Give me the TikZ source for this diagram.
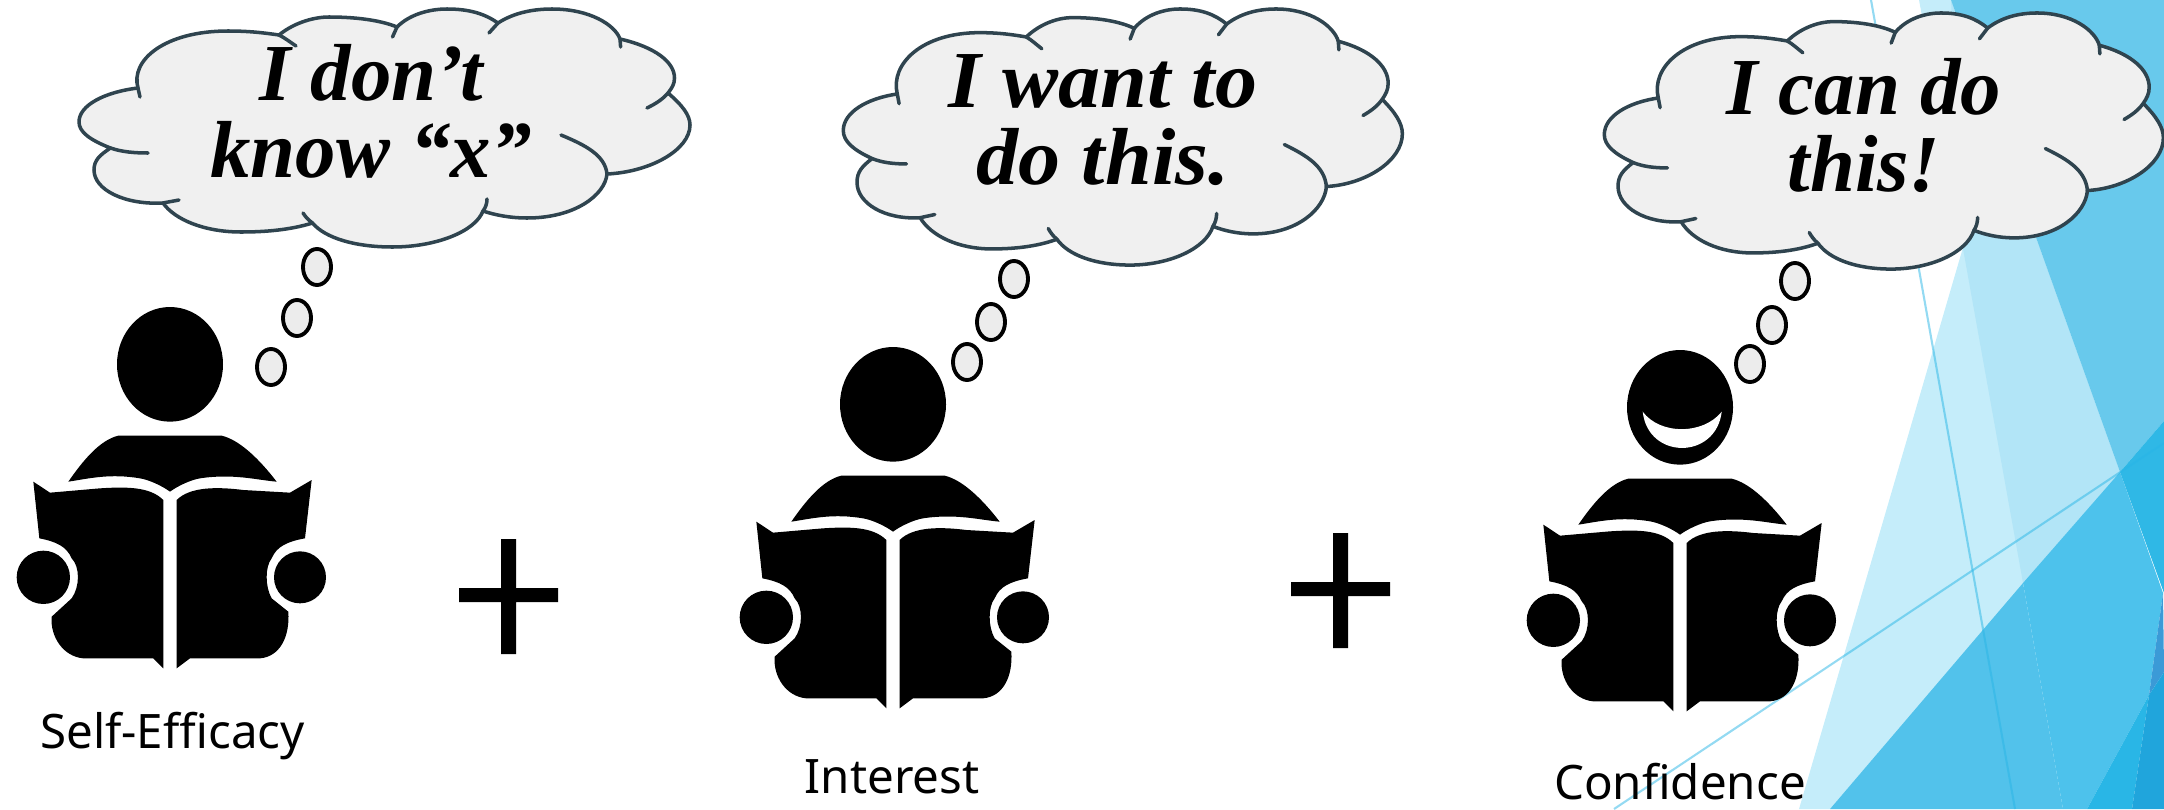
\documentclass[tikz,border=0pt]{standalone}
\usepackage{fontspec}
\setmainfont{Liberation Serif}
\newfontfamily\labelfont{Noto Sans}
\usetikzlibrary{shapes.geometric}
\definecolor{cloudline}{RGB}{47, 68, 79}
\definecolor{cloudfill}{RGB}{240, 240, 240}
\definecolor{bubblefill}{RGB}{236, 236, 236}
\definecolor{palesky}{RGB}{197, 237, 250}
\definecolor{midsky}{RGB}{178, 229, 247}
\definecolor{topsky}{RGB}{104, 201, 236}
\definecolor{lowsky}{RGB}{82, 194, 235}
\definecolor{bandsky}{RGB}{77, 194, 236}
\definecolor{deepsky}{RGB}{47, 184, 230}
\definecolor{floorsky}{RGB}{41, 182, 230}
\definecolor{darksky}{RGB}{32, 165, 220}
\definecolor{bluesky}{RGB}{59, 154, 215}

\begin{document}
\begin{tikzpicture}[
    x=0.01cm, y=-0.01cm,
    thought/.style={font=\fontsize{23}{21.9}\selectfont\bfseries\itshape, align=center, inner sep=0pt, transform shape},
    caption/.style={font=\labelfont\fontsize{13.5}{16}\selectfont, anchor=base, inner sep=0pt},
    bubble/.style={draw=black, fill=bubblefill, ellipse, line width=1.1pt, inner sep=0pt,
                   minimum width=0.28cm, minimum height=0.36cm},
    thin line/.style={draw=floorsky, opacity=0.5, line width=0.6pt},
    reader/.pic={
      \begin{scope}[scale=1/3]
        % head
        \fill (510,283) ellipse [x radius=159, y radius=172];
        % shoulders
        \fill (205,635) .. controls (250,570) and (300,510) .. (355,497) -- (665,497)
          .. controls (720,510) and (780,570) .. (830,635)
          .. controls (770,630) and (700,610) .. (600,625)
          .. controls (570,630) and (530,650) .. (510,665)
          .. controls (490,650) and (450,630) .. (420,625)
          .. controls (330,610) and (270,625) .. (205,635) -- cycle;
        % book pages
        \fill (100,635) -- (150,668) -- (300,655)
          .. controls (380,650) and (450,650) .. (490,690) -- (490,1195) -- (460,1165) -- (250,1165)
          .. controls (190,1160) and (150,1100) .. (155,1040) -- (215,985)
          .. controls (240,950) and (240,890) .. (215,865)
          .. controls (200,830) and (170,815) .. (118,805) -- cycle;
        \fill (935,630) -- (870,668) -- (730,660)
          .. controls (650,650) and (570,650) .. (530,690) -- (530,1195) -- (570,1165) -- (780,1165)
          .. controls (840,1160) and (870,1100) .. (865,1025) -- (815,985)
          .. controls (795,950) and (795,890) .. (815,865)
          .. controls (830,830) and (860,815) .. (915,805) -- cycle;
        % hands
        \fill (130,922) circle [radius=80];
        \fill (900,922) circle [radius=78];
      \end{scope}
    },
    thoughtcloud/.pic={
      \draw[draw=cloudline, fill=cloudfill, line width=1pt, line cap=round, line join=round]
        (110.5,148) .. controls (90,140) and (79,132) .. (79,122)
        .. controls (79,105) and (105,92) .. (138,88)
        .. controls (130,60) and (165,31) .. (228,31)
        .. controls (250,31) and (265,33) .. (279,35)
        .. controls (295,22) and (315,17) .. (329,17)
        .. controls (355,17) and (380,20) .. (397,27)
        .. controls (410,14) and (430,9) .. (447,9)
        .. controls (470,9) and (485,14) .. (498,23)
        .. controls (515,12) and (535,9) .. (552,9)
        .. controls (590,9) and (615,25) .. (620,39)
        .. controls (655,47) and (674.5,62) .. (674.5,78)
        .. controls (674.5,84) and (672,88) .. (668,93)
        .. controls (682,105) and (690,115) .. (690,125)
        .. controls (690,150) and (650,172) .. (607,174)
        .. controls (605,195) and (575,218) .. (527,218)
        .. controls (510,218) and (495,215) .. (483,211)
        .. controls (475,232) and (435,247) .. (392.5,247)
        .. controls (355,247) and (325,238) .. (312.5,223)
        .. controls (290,230) and (265,232) .. (241,232)
        .. controls (205,232) and (175,220) .. (163,203)
        .. controls (125,205) and (94,190) .. (94,170)
        .. controls (94,160) and (100,155) .. (110.5,148) -- cycle;
      % inner hooks
      \draw[draw=cloudline, line width=1pt, line cap=round]
        (110.5,148) .. controls (122,152) and (135,153) .. (148,153)
        (138,88) -- (140,97)
        (279,35) .. controls (285,38) and (290,42) .. (296,46)
        (397,27) -- (392.5,37)
        (498,23) -- (489,33)
        (620,39) -- (620.6,47)
        (668,93) .. controls (662,100) and (655,104) .. (647,108)
        (607,174) .. controls (605,155) and (585,145) .. (561,135)
        (483,211) .. controls (486,207) and (487,203) .. (487,199)
        (312.5,223) .. controls (308,220) and (305,216) .. (303,213)
        (163,203) .. controls (168,202) and (174,201) .. (179,200);
    }
  ]
  \useasboundingbox (0,0) rectangle (2164,809);

  % Background facets
  \begin{scope}
    \clip (0,0) rectangle (2164,809);
    \fill[palesky] (1799,809) -- (1964,244) -- (1919,0) -- (1951,0) -- (2120,472) -- (1830,809) -- cycle;
    \fill[midsky] (1962,243) -- (1951,0) -- (2120,472) -- (2023,583) -- cycle;
    \fill[topsky] (1951,0) -- (2164,0) -- (2164,421) -- (2120,472) -- cycle;
    \fill[lowsky] (1830,809) -- (2023,583) -- (2063,809) -- cycle;
    \fill[bandsky] (2023,583) -- (2120,472) -- (2163,593) -- (2149,695) -- (2087,809) -- (2063,809) -- cycle;
    \fill[deepsky] (2120,472) -- (2164,421) -- (2164,593) -- cycle;
    \fill[floorsky] (2087,809) -- (2149,695) -- (2132,809) -- cycle;
    \fill[bluesky] (2163,593) -- (2164,672) -- (2149,695) -- cycle;
    \fill[darksky] (2149,695) -- (2164,672) -- (2164,809) -- (2132,809) -- cycle;
    \path[thin line] (1871,0) -- (2015,809);
    \path[thin line] (1614,809) -- (2164,443);
  \end{scope}

  % Readers
  \pic at (0,270) {reader};
  \pic at (723,310) {reader};
  \pic at (1510,313) {reader};
  \fill[white] (1642.7,411.7) .. controls (1660,435) and (1703,435) .. (1721.7,411.7)
    .. controls (1716,460) and (1648,460) .. (1642.7,411.7) -- cycle;

  % Plus signs
  \fill (459,588) rectangle (558,602) (501,539) rectangle (516,654);
  \fill (1291,582) rectangle (1390,596) (1333,533) rectangle (1348,648);

  % Clouds
  \pic at (0,0) {thoughtcloud};
  \pic[xscale=0.915, yscale=1.076] at (771,-0.7) {thoughtcloud};
  \pic[xscale=0.915, yscale=1.076] at (1532,3.3) {thoughtcloud};

  \node[thought] (dontknow) at (371,111) {I don’t\\know “x”};
  \node[thought, xscale=1.04] (wantto) at (1103,120) {I want to\\do this.};
  \node[thought] (cando) at (1864,126) {I can do\\this!};

  % Bubbles
  \node[bubble] (selfa) at (317,267) {};
  \node[bubble] (selfb) at (297,318) {};
  \node[bubble] (selfc) at (271,367) {};
  \node[bubble] (inta)  at (1014,279) {};
  \node[bubble] (intb)  at (991,322) {};
  \node[bubble] (intc)  at (967,362) {};
  \node[bubble] (confa) at (1795,281) {};
  \node[bubble] (confb) at (1772,325) {};
  \node[bubble] (confc) at (1750,364) {};

  % Captions
  \node[caption] (selfeff)  at (172.5,748) {Self-Efficacy};
  \node[caption] (interest) at (892,793) {Interest};
  \node[caption] (confid)   at (1680,799) {Confidence};
\end{tikzpicture}
\end{document}
